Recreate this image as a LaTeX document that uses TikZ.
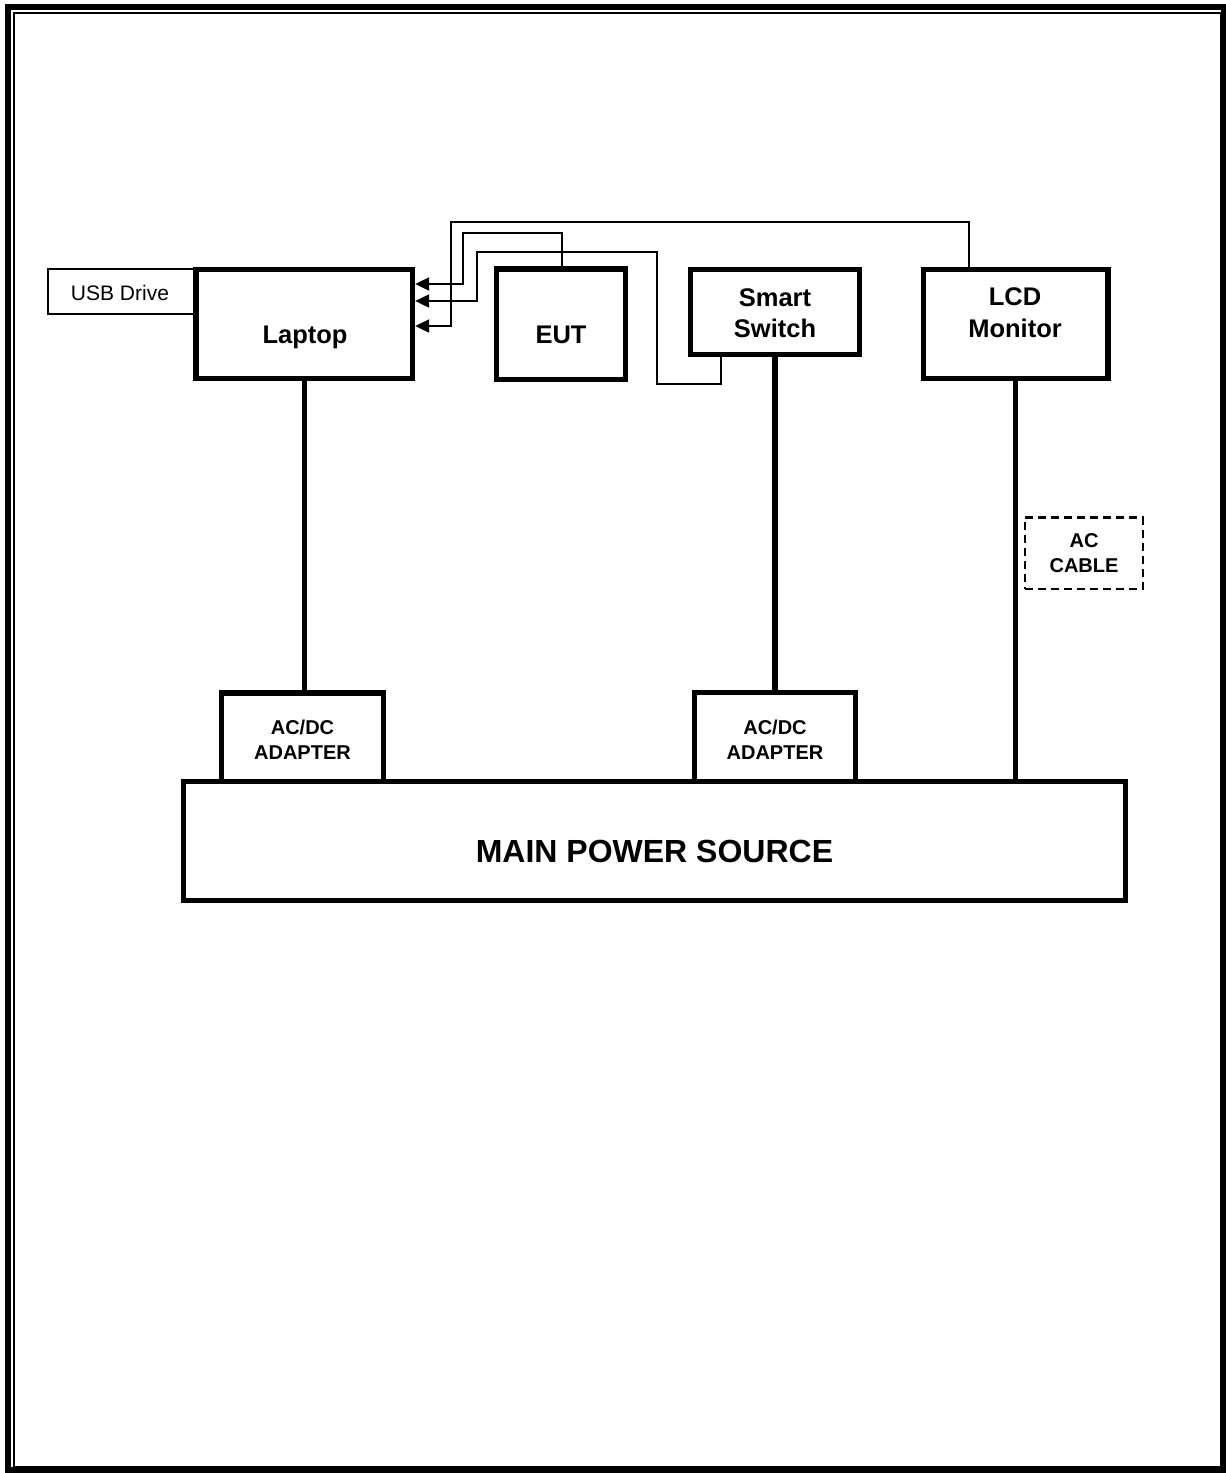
\documentclass[tikz,border=0pt]{standalone}
\usepackage{fontspec}
\setmainfont{Liberation Sans}
\usetikzlibrary{arrows.meta}
\tikzset{
  box/.style={draw, line width=5.3pt, rectangle, inner sep=0pt},
  thinbox/.style={draw, line width=1.3pt, rectangle, inner sep=0pt},
  dashbox/.style={draw, line width=2.4pt, rectangle, inner sep=0pt, dash pattern=on 8pt off 5pt},
  power/.style={line width=5.3pt},
  wire/.style={line width=2pt, -{Triangle[length=14pt,width=13pt]}},
  bigtxt/.style={inner sep=0pt, anchor=base, font=\fontsize{25.5}{30}\selectfont\bfseries},
  midtxt/.style={inner sep=0pt, anchor=base, font=\fontsize{20}{24}\selectfont\bfseries},
  usbtxt/.style={inner sep=0pt, anchor=base, font=\fontsize{21}{25}\selectfont},
  maintxt/.style={inner sep=0pt, anchor=base, font=\fontsize{32}{38}\selectfont\bfseries}
}
\begin{document}
\begin{tikzpicture}[x=1pt,y=-1pt]
\useasboundingbox (0,0) rectangle (1226,1473);
% page border
\draw[line width=6pt] (8,7) rectangle (1223.5,1470);
\draw[line width=2pt] (14,13) rectangle (1221,1467);

% boxes
\node[thinbox, minimum width=148pt, minimum height=45pt] (usb) at (122,291.5) {};
\node[usbtxt] (usbT) at (120,300) {USB Drive};

\node[box, minimum width=216.5pt, minimum height=109pt] (laptop) at (304.25,324) {};
\node[bigtxt] (laptopT) at (305,343) {Laptop};

\node[box, minimum width=129pt, minimum height=110.5pt] (eut) at (561,324.25) {};
\node[bigtxt] (eutT) at (561,343) {EUT};

\node[box, minimum width=169pt, minimum height=85pt] (smart) at (775,312) {};
\node[bigtxt] (smartT1) at (775,306) {Smart};
\node[bigtxt] (smartT2) at (775,337) {Switch};

\node[box, minimum width=184.5pt, minimum height=109pt] (lcd) at (1015.75,324) {};
\node[bigtxt] (lcdT1) at (1015,305) {LCD};
\node[bigtxt] (lcdT2) at (1015,337) {Monitor};

\node[dashbox, minimum width=117.7pt, minimum height=71.7pt] (accable) at (1083.85,553.15) {};
\node[midtxt] (acT1) at (1084,547) {AC};
\node[midtxt] (acT2) at (1084,572) {CABLE};

\node[box, minimum width=162pt, minimum height=88.5pt] (adl) at (302.5,737.25) {};
\node[midtxt] (adlT1) at (302.5,734) {AC/DC};
\node[midtxt] (adlT2) at (302.5,759) {ADAPTER};

\node[box, minimum width=161pt, minimum height=89pt] (adr) at (775,737) {};
\node[midtxt] (adrT1) at (775,734) {AC/DC};
\node[midtxt] (adrT2) at (775,759) {ADAPTER};

\node[box, minimum width=942pt, minimum height=119pt] (main) at (654.5,841) {};
\node[maintxt] (mainT) at (654.5,862) {MAIN POWER SOURCE};

% power connectors
\draw[power] (laptop.south) -- (laptop.south |- adl.north);
\draw[power] (smart.south) -- (smart.south |- adr.north);
\draw[power] (lcd.south) -- (lcd.south |- main.north);

% signal wires
\coordinate (y1) at (0,284);
\coordinate (y2) at (0,301);
\coordinate (y3) at (0,326);
\coordinate (b1) at (462.7,233.3);
\coordinate (s1) at (561.7,0);
\coordinate (s2) at (720.7,0);
\coordinate (b2a) at (656.7,384.3);
\coordinate (b2b) at (476.7,251.7);
\coordinate (s3) at (969.3,0);
\coordinate (b3) at (450.7,221.7);

\draw[wire] (eut.north -| s1) |- (b1) |- (laptop.east |- y1);
\draw[wire] (smart.south -| s2) |- (b2a) |- (b2b) |- (laptop.east |- y2);
\draw[wire] (lcd.north -| s3) |- (b3) |- (laptop.east |- y3);
\end{tikzpicture}
\end{document}
